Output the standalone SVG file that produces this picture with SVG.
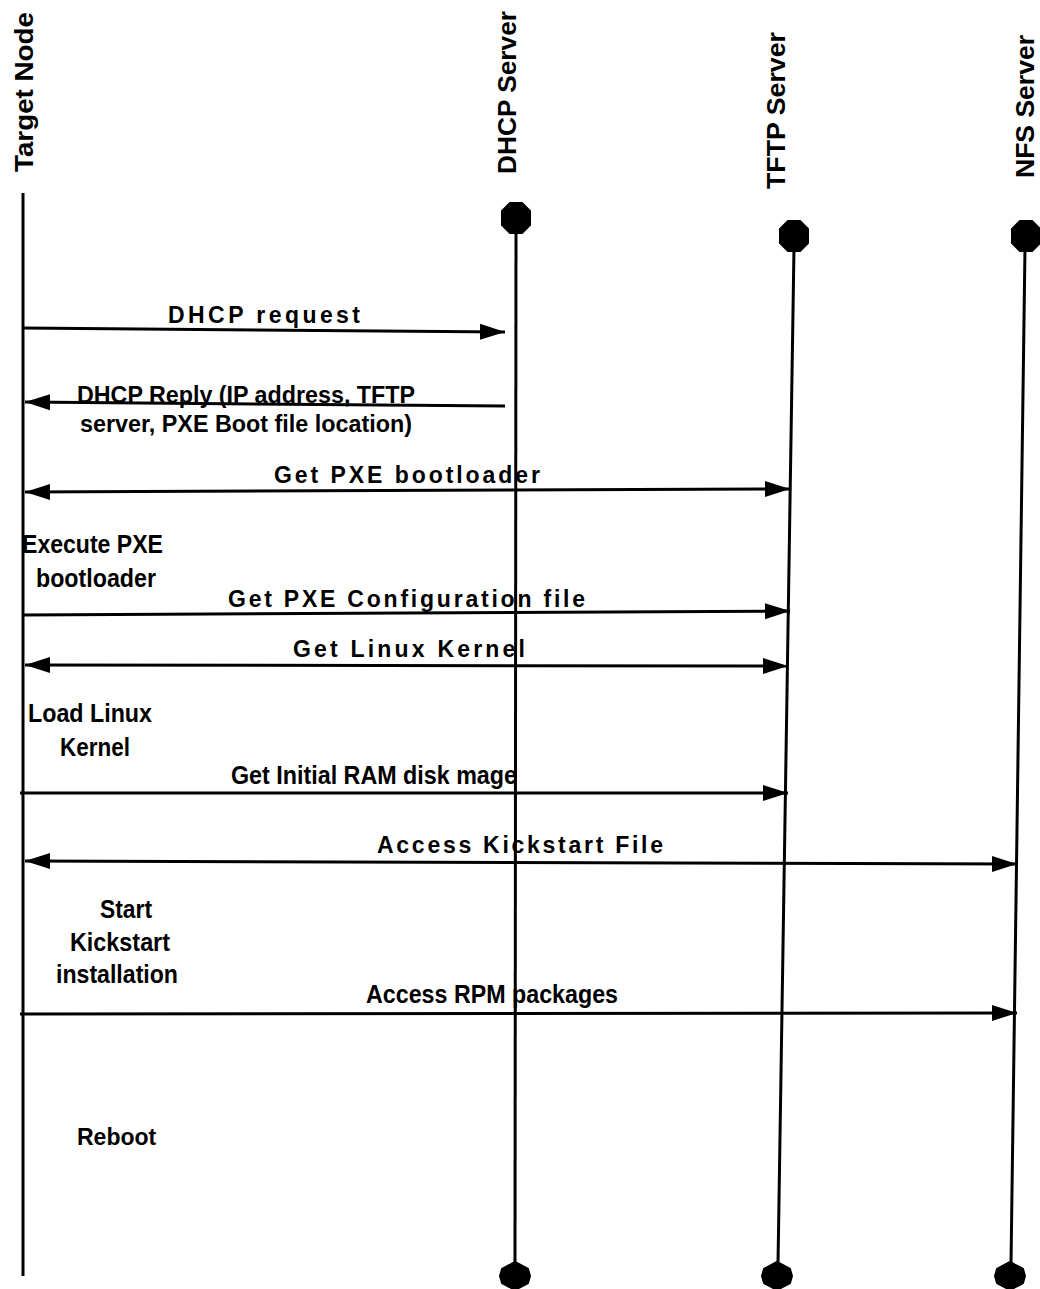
<svg xmlns="http://www.w3.org/2000/svg" width="1040" height="1289" viewBox="0 0 1040 1289">
<style>
text{font-family:"Liberation Sans",Arial,sans-serif;font-weight:bold;font-size:23px;fill:#000}
.hdr{font-size:26px}
.cond{font-size:25px}
.life{stroke:#000;stroke-width:3;fill:none}
.msg{stroke:#000;stroke-width:3;fill:none}
.dot{fill:#000;stroke:#000;stroke-width:2;stroke-linejoin:round}
</style>
<defs>
<marker id="ah" markerUnits="userSpaceOnUse" markerWidth="26" markerHeight="18" refX="25" refY="9" orient="auto-start-reverse">
<path d="M0,1 L25,9 L0,17 z" fill="#000"/>
</marker>
<path id="topdot" d="M-6,-15 L6,-15 L14,-7 L14,7 L6,15 L-6,15 L-14,7 L-14,-7 z"/>
<path id="botdot" d="M0,-14 L13,-7 L15,0 L13,7 L0,14 L-13,7 L-15,0 L-13,-7 z"/>
</defs>

<g id="target-node">
<text class="hdr" transform="translate(33,172) rotate(-90)" textLength="160" lengthAdjust="spacingAndGlyphs">Target Node</text>
<line class="life" x1="23" y1="193" x2="23" y2="1276"/>
</g>
<g id="dhcp-server">
<text class="hdr" transform="translate(516,174) rotate(-90)" textLength="163" lengthAdjust="spacingAndGlyphs">DHCP Server</text>
<use href="#topdot" class="dot" x="516" y="218"/>
<line class="life" x1="516" y1="230" x2="515" y2="1264"/>
<use href="#botdot" class="dot" x="515" y="1276"/>
</g>
<g id="tftp-server">
<text class="hdr" transform="translate(785,189) rotate(-90)" textLength="157" lengthAdjust="spacingAndGlyphs">TFTP Server</text>
<use href="#topdot" class="dot" x="794" y="236"/>
<line class="life" x1="794" y1="248" x2="778" y2="1264"/>
<use href="#botdot" class="dot" x="777" y="1276"/>
</g>
<g id="nfs-server">
<text class="hdr" transform="translate(1034,178) rotate(-90)" textLength="143" lengthAdjust="spacingAndGlyphs">NFS Server</text>
<use href="#topdot" class="dot" x="1026" y="236"/>
<line class="life" x1="1025" y1="248" x2="1011" y2="1264"/>
<use href="#botdot" class="dot" x="1010" y="1276"/>
</g>

<g id="connectors">
<line class="msg" x1="23" y1="328" x2="505" y2="332" marker-end="url(#ah)"/>
<line class="msg" x1="505" y1="406" x2="25" y2="402" marker-end="url(#ah)"/>
<line class="msg" x1="25" y1="492" x2="790" y2="489" marker-start="url(#ah)" marker-end="url(#ah)"/>
<line class="msg" x1="23" y1="615" x2="790" y2="611" marker-end="url(#ah)"/>
<line class="msg" x1="25" y1="665" x2="788" y2="666" marker-start="url(#ah)" marker-end="url(#ah)"/>
<line class="msg" x1="20" y1="793" x2="788" y2="793" marker-end="url(#ah)"/>
<line class="msg" x1="25" y1="861" x2="1017" y2="864" marker-start="url(#ah)" marker-end="url(#ah)"/>
<line class="msg" x1="20" y1="1014" x2="1017" y2="1013" marker-end="url(#ah)"/>
</g>

<g id="labels">
<text x="168" y="323" textLength="192" lengthAdjust="spacing">DHCP request</text>
<text x="77" y="403" textLength="338" lengthAdjust="spacingAndGlyphs">DHCP Reply (IP address, TFTP</text>
<text x="80" y="432" textLength="332" lengthAdjust="spacingAndGlyphs">server, PXE Boot file location)</text>
<text x="274" y="483" textLength="266" lengthAdjust="spacing">Get PXE bootloader</text>
<text class="cond" x="22" y="553" textLength="141" lengthAdjust="spacingAndGlyphs">Execute PXE</text>
<text class="cond" x="36" y="587" textLength="120" lengthAdjust="spacingAndGlyphs">bootloader</text>
<text x="228" y="607" textLength="357" lengthAdjust="spacing">Get PXE Configuration file</text>
<text x="293" y="657" textLength="232" lengthAdjust="spacing">Get Linux Kernel</text>
<text class="cond" x="28" y="722" textLength="124" lengthAdjust="spacingAndGlyphs">Load Linux</text>
<text class="cond" x="60" y="756" textLength="70" lengthAdjust="spacingAndGlyphs">Kernel</text>
<text class="cond" x="231" y="784" textLength="286" lengthAdjust="spacingAndGlyphs">Get Initial RAM disk mage</text>
<text x="377" y="853" textLength="286" lengthAdjust="spacing">Access Kickstart File</text>
<text class="cond" x="100" y="918" textLength="52" lengthAdjust="spacingAndGlyphs">Start</text>
<text class="cond" x="70" y="951" textLength="100" lengthAdjust="spacingAndGlyphs">Kickstart</text>
<text class="cond" x="56" y="983" textLength="122" lengthAdjust="spacingAndGlyphs">installation</text>
<text class="cond" x="366" y="1003" textLength="252" lengthAdjust="spacingAndGlyphs">Access RPM packages</text>
<text x="77" y="1145">Reboot</text>
</g>
</svg>
